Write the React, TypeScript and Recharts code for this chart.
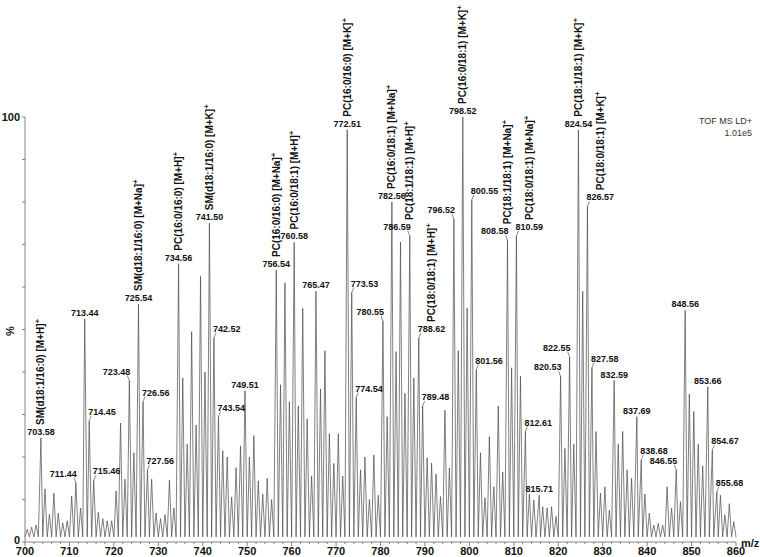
import React from "react";
import { ComposedChart, Line, Scatter, XAxis, YAxis } from "recharts";

// peak centroids (m/z) and relative intensity (%)
const PEAK_MZ = [
  700.5, 701.5, 702.5, 703.58, 704.5, 705.5, 706.5, 707.5, 708.5, 709.5,
  710.5, 711.44, 712.5, 713.44, 714.45, 715.46, 716.5, 717.5, 718.5, 719.5,
  720.5, 721.5, 722.5, 723.48, 724.5, 725.54, 726.56, 727.56, 728.5, 729.5,
  730.5, 731.5, 732.5, 733.5, 734.56, 735.5, 736.5, 737.5, 738.5, 739.5,
  740.5, 741.5, 742.52, 743.54, 744.5, 745.5, 746.5, 747.5, 748.5, 749.51,
  750.5, 751.5, 752.5, 753.5, 754.5, 755.5, 756.54, 757.5, 758.5, 759.5,
  760.58, 761.5, 762.5, 763.5, 764.5, 765.47, 766.5, 767.5, 768.5, 769.5,
  770.5, 771.5, 772.51, 773.53, 774.54, 775.5, 776.5, 777.5, 778.5, 779.5,
  780.55, 781.5, 782.56, 783.5, 784.5, 785.5, 786.59, 787.5, 788.62, 789.48,
  790.5, 791.5, 792.5, 793.5, 794.5, 795.5, 796.52, 797.5, 798.52, 799.5,
  800.55, 801.56, 802.5, 803.5, 804.5, 805.5, 806.5, 807.5, 808.58, 809.5,
  810.59, 811.5, 812.61, 813.5, 814.5, 815.71, 816.5, 817.5, 818.5, 819.5,
  820.53, 821.5, 822.55, 823.5, 824.54, 825.5, 826.57, 827.58, 828.5, 829.5,
  830.5, 831.5, 832.59, 833.5, 834.5, 835.5, 836.5, 837.69, 838.68, 839.5,
  840.5, 841.5, 842.5, 843.5, 844.5, 845.5, 846.55, 847.5, 848.56, 849.5,
  850.5, 851.5, 852.5, 853.66, 854.67, 855.68, 856.5, 857.5, 858.5, 859.5,
];

const PEAK_INT = [
  3, 3.5, 4, 24.5, 12.5, 6.5, 11.5, 6.8, 4.5, 5,
  10.8, 14, 8, 52.5, 28.5, 14.5, 7, 5.5, 5, 5,
  12, 28, 14.8, 38, 21, 56, 33, 17, 14.8, 6.8,
  5.5, 6.4, 14.6, 8, 65.5, 38.6, 23, 49.5, 27.5, 62.5,
  40, 75, 48, 29.5, 21.5, 20, 10.6, 17.5, 22.6, 35.6,
  20, 25, 14.4, 11.3, 15, 10, 64, 37, 61, 33,
  70.5, 32, 55, 29, 15.5, 59, 36, 45, 25.5, 18.5,
  25.5, 15.5, 97, 58.7, 34, 17, 20, 10, 20.5, 11,
  52, 29.5, 80, 44.8, 70.6, 35, 72, 38.6, 48, 32,
  19.8, 18.6, 16, 10.7, 31, 17.4, 76, 45, 100, 55,
  80.5, 40.5, 21, 10.4, 24.8, 13, 32, 16.5, 71, 41,
  72, 39, 26, 11.3, 9.9, 11, 8.3, 8, 8.3, 6,
  39, 22, 43.6, 23, 97, 59, 79, 41, 26, 11.5,
  13, 7.5, 38, 23, 26, 17, 15, 29.5, 19.3, 11.3,
  6.8, 4, 4.4, 4, 13, 8, 17, 9.5, 54.5, 34.8,
  30.7, 23, 17.9, 36.5, 21.6, 11.8, 11, 6.4, 9, 4.8,
];

// level of the valleys between the peaks (%)
const BASELINE = 1.2;

// labelled peaks, and on which side of the peak the label sits (c = centred, l = left, r = right)
const LABEL_MZ = [
  "703.58", "711.44", "713.44", "714.45", "715.46", "723.48", "725.54", "726.56", "727.56", "734.56",
  "741.50", "742.52", "743.54", "749.51", "756.54", "760.58", "765.47", "772.51", "773.53", "774.54",
  "780.55", "782.56", "786.59", "788.62", "789.48", "796.52", "798.52", "800.55", "801.56", "808.58",
  "810.59", "812.61", "815.71", "820.53", "822.55", "824.54", "826.57", "827.58", "832.59", "837.69",
  "838.68", "846.55", "848.56", "853.66", "854.67", "855.68",
];
const LABEL_SIDE = [
  "c", "l", "c", "r", "r", "l", "c", "r", "r", "c",
  "c", "r", "r", "c", "c", "c", "c", "c", "r", "r",
  "l", "c", "l", "r", "r", "l", "c", "r", "r", "l",
  "r", "r", "c", "l", "l", "c", "r", "r", "c", "c",
  "r", "l", "c", "c", "r", "r",
];

// lipid assignments
const NOTE_MZ = [
  "703.58", "725.54", "734.56", "741.50", "756.54", "760.58", "772.51", "782.56",
  "786.59", "788.62", "798.52", "808.58", "810.59", "824.54", "826.57",
];
const NOTE_TEXT = [
  "SM(d18:1/16:0) [M+H]", "SM(d18:1/16:0) [M+Na]", "PC(16:0/16:0) [M+H]", "SM(d18:1/16:0) [M+K]",
  "PC(16:0/16:0) [M+Na]", "PC(16:0/18:1) [M+H]", "PC(16:0/16:0) [M+K]", "PC(16:0/18:1) [M+Na]",
  "PC(18:1/18:1) [M+H]", "PC(18:0/18:1) [M+H]", "PC(16:0/18:1) [M+K]", "PC(18:1/18:1) [M+Na]",
  "PC(18:0/18:1) [M+Na]", "PC(18:1/18:1) [M+K]", "PC(18:0/18:1) [M+K]",
];

const X_MAJOR = [700, 710, 720, 730, 740, 750, 760, 770, 780, 790, 800, 810, 820, 830, 840, 850, 860];
const Y_TICKS = [0, 10, 20, 30, 40, 50, 60, 70, 80, 90, 100];
const X_TICKS = X_MAJOR.flatMap((v, i) => (i === X_MAJOR.length - 1 ? [v] : [v, v + 2, v + 4, v + 6, v + 8]));

const FONT = "'Liberation Sans', Arial, Helvetica, sans-serif";
const AXIS = "#666";

// profile: each peak rises from the valley at its nominal mass
const profile: { mz: number; int: number }[] = [];
PEAK_MZ.forEach((mz, i) => {
  profile.push({ mz: Math.floor(mz), int: BASELINE });
  profile.push({ mz, int: PEAK_INT[i] });
});
profile.push({ mz: 860, int: BASELINE });

const labels = LABEL_MZ.map((text, i) => {
  const idx = PEAK_MZ.indexOf(Number(text));
  const n = NOTE_MZ.indexOf(text);
  return {
    mz: PEAK_MZ[idx],
    int: PEAK_INT[idx],
    text,
    side: LABEL_SIDE[i],
    note: n >= 0 ? NOTE_TEXT[n] : null,
  };
});

const PeakLabel = (props: any) => {
  const { cx, cy, payload } = props;
  const side = payload.side;
  let tx = cx;
  let anchor = "middle";
  let center = cx;
  let ty = cy - 3;
  let leader = null;
  if (side === "r") {
    tx = cx - 1;
    anchor = "start";
    center = cx + 13;
    ty = cy - 6;
    leader = <line x1={cx} y1={cy} x2={cx + 2} y2={cy - 5} stroke="#555" strokeWidth={0.7} />;
  } else if (side === "l") {
    tx = cx + 1;
    anchor = "end";
    center = cx - 13;
    ty = cy - 6;
    leader = <line x1={cx} y1={cy} x2={cx - 2} y2={cy - 5} stroke="#555" strokeWidth={0.7} />;
  }
  const nx = (side === "r" ? center : cx) + 3.5;
  const ny = ty - 10;
  return (
    <g fontFamily={FONT} fontWeight="bold" fill="#111">
      {leader}
      <text x={tx} y={ty} textAnchor={anchor} fontSize={9}>
        {payload.text}
      </text>
      {payload.note && (
        <text transform={`translate(${nx},${ny}) rotate(-90)`} fontSize={10}>
          {payload.note}
          <tspan dy={-4} fontSize={8}>+</tspan>
        </text>
      )}
    </g>
  );
};

const XTick = ({ x, y, payload }: any) => {
  const major = payload.value % 10 === 0;
  return (
    <g>
      <line x1={x} x2={x} y1={y} y2={y + (major ? 4 : 2)} stroke={AXIS} strokeWidth={0.8} />
      {major && (
        <text x={x} y={y + 13} textAnchor="middle" fontFamily={FONT} fontWeight="bold" fontSize={11} fill="#111">
          {payload.value}
        </text>
      )}
    </g>
  );
};

const YTick = ({ x, y, payload }: any) => {
  const shown = payload.value === 0 || payload.value === 100;
  return (
    <g>
      <line x1={x - 3} x2={x} y1={y} y2={y} stroke={AXIS} strokeWidth={0.8} />
      {shown && (
        <text x={x - 5} y={y + (payload.value === 0 ? 2 : 4)} textAnchor="end" fontFamily={FONT} fontWeight="bold" fontSize={11} fill="#111">
          {payload.value}
        </text>
      )}
    </g>
  );
};

export default function App() {
  return (
    <div style={{ position: "absolute", left: 0, top: 0, width: 760, height: 557, background: "#fff" }}>
      <ComposedChart width={760} height={557} data={profile} margin={{ top: 117, right: 24, bottom: 0, left: 0 }}>
        <XAxis
          dataKey="mz"
          type="number"
          domain={[700, 860]}
          ticks={X_TICKS}
          interval={0}
          height={15}
          tickSize={0}
          tickMargin={0}
          tick={<XTick />}
          axisLine={{ stroke: AXIS, strokeWidth: 0.8 }}
        />
        <YAxis
          type="number"
          domain={[0, 100]}
          ticks={Y_TICKS}
          interval={0}
          width={25}
          tickSize={0}
          tickMargin={0}
          tick={<YTick />}
          axisLine={{ stroke: AXIS, strokeWidth: 0.8 }}
        />
        <Line
          dataKey="int"
          type="linear"
          stroke="#4a4a4a"
          strokeWidth={0.7}
          dot={false}
          activeDot={false}
          isAnimationActive={false}
        />
        <Scatter data={labels} dataKey="int" shape={PeakLabel} isAnimationActive={false} />
      </ComposedChart>
      <svg width={760} height={557} style={{ position: "absolute", left: 0, top: 0, pointerEvents: "none" }}>
        <g fontFamily={FONT} fill="#111">
          <text transform="translate(14,331) rotate(-90)" textAnchor="middle" fontSize={11} fontWeight="bold">
            %
          </text>
          <text x={741} y={547} fontSize={11} fontWeight="bold">
            m/z
          </text>
          <text x={752} y={124} textAnchor="end" fontSize={9} fill="#333">
            TOF MS LD+
          </text>
          <text x={752} y={136} textAnchor="end" fontSize={9} fill="#333">
            1.01e5
          </text>
        </g>
      </svg>
    </div>
  );
}
